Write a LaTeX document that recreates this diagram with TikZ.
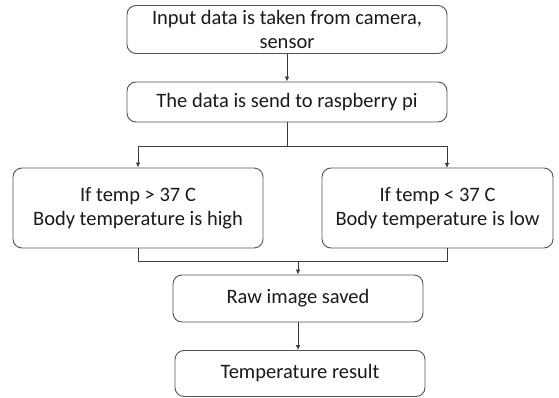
\documentclass[tikz,border=0pt]{standalone}
\usepackage{fontspec}
\setmainfont{Carlito}
\usetikzlibrary{arrows.meta}
\definecolor{boxline}{HTML}{4A5560}
\definecolor{conline}{HTML}{3A3A3A}
\definecolor{txt}{HTML}{1A1A1A}
\tikzset{
  flowbox/.style={draw=boxline, line width=0.9pt, rounded corners=9pt, fill=white,
    inner sep=0pt, align=center, text=txt, font=\fontsize{20.5}{24.5}\selectfont},
  conn/.style={draw=conline, line width=0.8pt},
  arr/.style={conn, -{Latex[length=5pt,width=4.5pt]}}
}
\begin{document}
\begin{tikzpicture}[x=1pt,y=-1pt]
\useasboundingbox (0,0) rectangle (559,398);
\node[flowbox, minimum width=320pt, minimum height=48pt] (b1) at (287,29.5) {Input data is taken from camera,\\sensor};
\node[flowbox, minimum width=320pt, minimum height=40pt] (b2) at (287,102) {The data is send to raspberry pi};
\node[flowbox, minimum width=250pt, minimum height=80pt] (hi) at (138,208) {If temp > 37 C\\Body temperature is high};
\node[flowbox, minimum width=231pt, minimum height=80pt] (lo) at (437.5,208) {If temp < 37 C\\Body temperature is low};
\node[flowbox, minimum width=250pt, minimum height=47pt] (raw) at (298,298.5) {Raw image saved};
\node[flowbox, minimum width=250pt, minimum height=46pt] (res) at (300,373.5) {Temperature result};
\coordinate (split) at (287,146);
\coordinate (loin) at (447,168);
\coordinate (loout) at (447,248);
\coordinate (merge) at (298,261);
\draw[arr] (b1) -- (b2);
\draw[conn] (b2.south) -- (split);
\draw[arr] (split) -| (hi.north);
\draw[arr] (split) -| (loin);
\draw[conn] (hi.south) |- (merge);
\draw[conn] (loout) |- (merge);
\draw[arr] (merge) -- (raw.north);
\draw[arr] (raw.south) -- (raw.south |- res.north);
\end{tikzpicture}
\end{document}
